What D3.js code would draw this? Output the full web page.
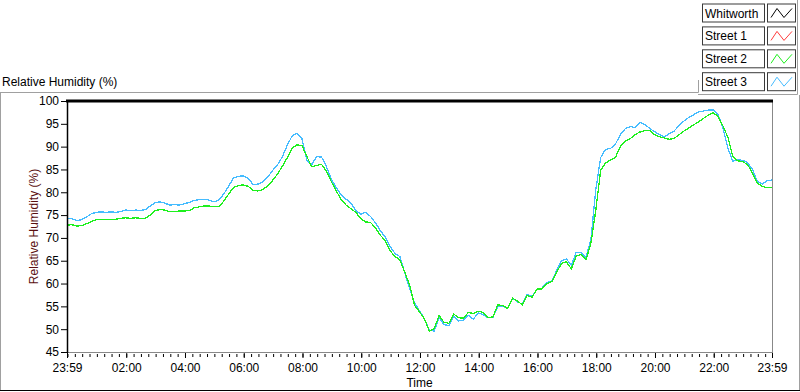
<!DOCTYPE html>
<html>
<head>
<meta charset="utf-8">
<script src="https://cdn.jsdelivr.net/npm/d3@7"></script>
<style>
  body { margin: 0; background: #fff; }
  svg { display: block; font-family: "Liberation Sans", Arial, sans-serif; }
</style>
</head>
<body>
<div id="chart"></div>
<script>
// Series names, legend order
const seriesNames = ["Whitworth", "Street 1", "Street 2", "Street 3"];
const seriesColors = ["#000000", "#ff3c3c", "#1ef01e", "#45bcff"];

// readings every 10 minutes from 23:59 to 23:59 (RH %)
const whitworth = [];
const street1 = [];
const street2 = [
  72.8, 72.9, 72.6, 72.7, 73.1, 73.6, 74.0, 74.1, 74.1, 74.1,
  74.1, 74.3, 74.4, 74.3, 74.4, 74.3, 74.3, 75.0, 76.0, 76.2,
  76.1, 75.7, 75.8, 75.9, 75.9, 76.0, 76.6, 76.8, 77.0, 77.0,
  76.8, 76.9, 78.0, 79.6, 81.0, 81.5, 81.6, 81.3, 80.4, 80.3,
  80.6, 81.4, 82.6, 84.0, 85.7, 87.6, 89.7, 90.4, 90.2, 87.8,
  85.6, 85.9, 86.1, 84.6, 82.3, 80.3, 78.4, 77.2, 76.4, 75.6,
  74.2, 73.5, 73.4, 72.2, 70.6, 69.4, 67.2, 65.9, 65.2, 62.5,
  59.6, 55.2, 53.8, 52.3, 49.6, 50.1, 53.0, 51.5, 51.3, 53.3,
  52.5, 52.4, 53.7, 53.4, 53.9, 53.7, 52.5, 52.7, 55.3, 55.2,
  54.5, 56.8, 56.2, 55.3, 57.4, 57.0, 58.8, 58.8, 60.0, 60.4,
  62.4, 64.4, 64.8, 63.2, 66.0, 66.4, 65.2, 68.8, 76.0, 84.8,
  86.4, 87.1, 87.6, 90.0, 91.2, 91.7, 92.6, 93.2, 93.5, 93.6,
  92.6, 92.2, 91.9, 91.6, 91.8, 92.6, 93.4, 94.1, 94.8, 95.4,
  96.2, 96.9, 97.4, 96.6, 94.5, 92.0, 87.8, 86.9, 86.7, 86.1,
  84.2, 82.0, 81.3, 81.0, 81.0
];
const street3 = [
  74.3, 74.2, 73.8, 74.0, 74.6, 75.3, 75.6, 75.7, 75.6, 75.7,
  75.6, 75.8, 76.1, 76.0, 76.1, 76.0, 76.2, 77.0, 77.7, 77.9,
  77.6, 77.2, 77.3, 77.2, 77.5, 77.8, 78.2, 78.4, 78.5, 78.3,
  77.9, 78.3, 79.6, 81.3, 83.1, 83.5, 83.6, 83.1, 81.7, 81.8,
  82.3, 83.3, 84.8, 86.0, 87.8, 90.3, 92.4, 92.9, 91.7, 87.0,
  86.1, 87.8, 87.7, 85.6, 82.8, 81.0, 79.4, 78.5, 77.6, 76.0,
  75.2, 75.6, 74.7, 73.3, 71.6, 70.2, 68.1, 66.6, 65.9, 62.3,
  58.8, 55.8, 54.0, 52.3, 49.8, 49.6, 52.5, 51.0, 50.8, 52.8,
  51.8, 52.0, 53.0, 52.2, 53.6, 53.2, 52.5, 52.6, 55.0, 55.0,
  54.6, 56.8, 56.0, 55.5, 57.6, 57.2, 58.8, 59.0, 60.2, 60.6,
  62.8, 65.0, 65.4, 64.0, 66.8, 66.8, 65.8, 69.5, 80.5, 87.6,
  89.4, 89.6, 90.5, 92.6, 93.9, 94.4, 94.2, 95.3, 94.9, 94.0,
  93.3, 92.6, 92.2, 92.8, 93.4, 94.6, 95.6, 96.4, 97.0, 97.6,
  97.8, 98.0, 98.0, 97.0, 94.0, 89.6, 86.8, 87.1, 87.0, 86.5,
  85.0, 82.4, 81.8, 82.5, 82.7
];
const seriesData = [whitworth, street1, street2, street3];

const xTickLabels = ["23:59", "02:00", "04:00", "06:00", "08:00", "10:00", "12:00",
  "14:00", "16:00", "18:00", "20:00", "22:00", "23:59"];
const yTicks = [45, 50, 55, 60, 65, 70, 75, 80, 85, 90, 95, 100];

const width = 800;
const height = 392;
const plot = { left: 67, right: 772, top: 101, bottom: 352 };

const startTime = new Date(2020, 0, 1, 23, 59);
const endTime = d3.timeMinute.offset(startTime, 1440);
const stepMinutes = 10;
const times = street2.map((d, i) => d3.timeMinute.offset(startTime, i * stepMinutes));

const svg = d3.select("#chart").append("svg")
  .attr("width", width)
  .attr("height", height);

const x = d3.scaleTime().domain([startTime, endTime]).range([plot.left, plot.right]);
const y = d3.scaleLinear().domain([45, 100]).range([plot.bottom, plot.top]);

// outer frame
svg.append("path").attr("d", "M0.5,92 V391").attr("stroke", "#a0a0a0").attr("fill", "none");
svg.append("path").attr("d", "M0,92.5 H698.5 V80").attr("stroke", "#a0a0a0").attr("fill", "none");
svg.append("path").attr("d", "M698,94.5 H797.5 V0").attr("stroke", "#a0a0a0").attr("fill", "none");
svg.append("path").attr("d", "M799.5,95 V391").attr("stroke", "#a0a0a0").attr("fill", "none");
svg.append("path").attr("d", "M0,390.5 H800").attr("stroke", "#000").attr("fill", "none");

// title
svg.append("text")
  .attr("x", 2).attr("y", 86)
  .style("font-size", "12px")
  .text("Relative Humidity (%)");

// clip for the plot
svg.append("clipPath").attr("id", "clip")
  .append("rect")
  .attr("x", plot.left).attr("y", plot.top)
  .attr("width", plot.right - plot.left).attr("height", plot.bottom - plot.top);

// lines (Street 3 under Street 2)
const line = d3.line()
  .x((d, i) => x(times[i]))
  .y((d) => y(d));

const drawOrder = [3, 2, 1, 0];
drawOrder.forEach((k) => {
  if (!seriesData[k].length) return;
  svg.append("path")
    .datum(seriesData[k])
    .attr("clip-path", "url(#clip)")
    .attr("fill", "none")
    .attr("stroke", seriesColors[k])
    .attr("stroke-width", 1.3)
    .attr("shape-rendering", "crispEdges")
    .attr("d", line);
});

// plot border
svg.append("path").attr("d", `M${plot.right + 0.5},${plot.top} V${plot.bottom + 1}`)
  .attr("stroke", "#888").attr("fill", "none");
svg.append("path").attr("d", `M${plot.left},${plot.bottom + 0.5} H${plot.right + 1}`)
  .attr("stroke", "#888").attr("fill", "none");
svg.append("path").attr("d", `M${plot.left + 0.5},${plot.top} V${plot.bottom + 1}`)
  .attr("stroke", "#000").attr("stroke-width", 1.5).attr("fill", "none");
svg.append("path").attr("d", `M${plot.left - 1},${plot.top} H${plot.right + 1}`)
  .attr("stroke", "#000").attr("stroke-width", 3).attr("fill", "none");

// y axis
const yAxis = svg.append("g")
  .attr("transform", `translate(${plot.left},0)`)
  .call(d3.axisLeft(y).tickValues(yTicks).tickSize(6).tickPadding(2));
yAxis.select(".domain").remove();
yAxis.selectAll("text").style("font-size", "12px").style("font-family", "Liberation Sans, Arial, sans-serif").attr("fill", "#000");
yAxis.selectAll("line").attr("stroke", "#000");

svg.append("text")
  .attr("transform", `translate(38,${(plot.top + plot.bottom) / 2}) rotate(-90)`)
  .attr("text-anchor", "middle")
  .attr("fill", "#5a1010")
  .style("font-size", "12px")
  .text("Relative Humidity (%)");

// x axis: minor ticks every 15 minutes, labelled ticks every 2 hours
const minorTimes = d3.timeMinute.every(15).range(startTime, endTime);
const majorTimes = [startTime].concat(d3.timeHour.every(2).range(d3.timeMinute.offset(startTime, 2), endTime), [endTime]);

const xMinor = svg.append("g")
  .attr("transform", `translate(0,${plot.bottom + 2})`)
  .call(d3.axisBottom(x).tickValues(minorTimes).tickSize(3).tickFormat(""));
xMinor.select(".domain").remove();
xMinor.selectAll("line").attr("stroke", "#000");

const xAxis = svg.append("g")
  .attr("transform", `translate(0,${plot.bottom + 1})`)
  .call(d3.axisBottom(x).tickValues(majorTimes).tickSize(5).tickPadding(5)
    .tickFormat((d, i) => xTickLabels[i]));
xAxis.select(".domain").remove();
xAxis.selectAll("line").attr("stroke", "#000");
xAxis.selectAll("text").style("font-size", "12px").style("font-family", "Liberation Sans, Arial, sans-serif").attr("fill", "#000");

svg.append("text")
  .attr("x", (plot.left + plot.right) / 2)
  .attr("y", 387)
  .attr("text-anchor", "middle")
  .style("font-size", "12px")
  .text("Time");

// legend
const legend = svg.append("g");
seriesNames.forEach((name, i) => {
  const top = 3.5 + i * 22.9;
  const row = legend.append("g").attr("transform", `translate(0,${top})`);
  row.append("rect").attr("x", 702.5).attr("y", 0.5).attr("width", 62).attr("height", 18)
    .attr("fill", "#fff").attr("stroke", "#3a3a3a");
  row.append("text").attr("x", 705).attr("y", 14)
    .style("font-size", "12px").text(name);
  row.append("rect").attr("x", 767.5).attr("y", 0.5).attr("width", 28).attr("height", 18)
    .attr("fill", "#fff").attr("stroke", "#3a3a3a");
  row.append("path")
    .attr("d", "M771,14 L777,5 L784,14 L792,5")
    .attr("fill", "none")
    .attr("stroke", seriesColors[i]);
});
</script>
</body>
</html>
